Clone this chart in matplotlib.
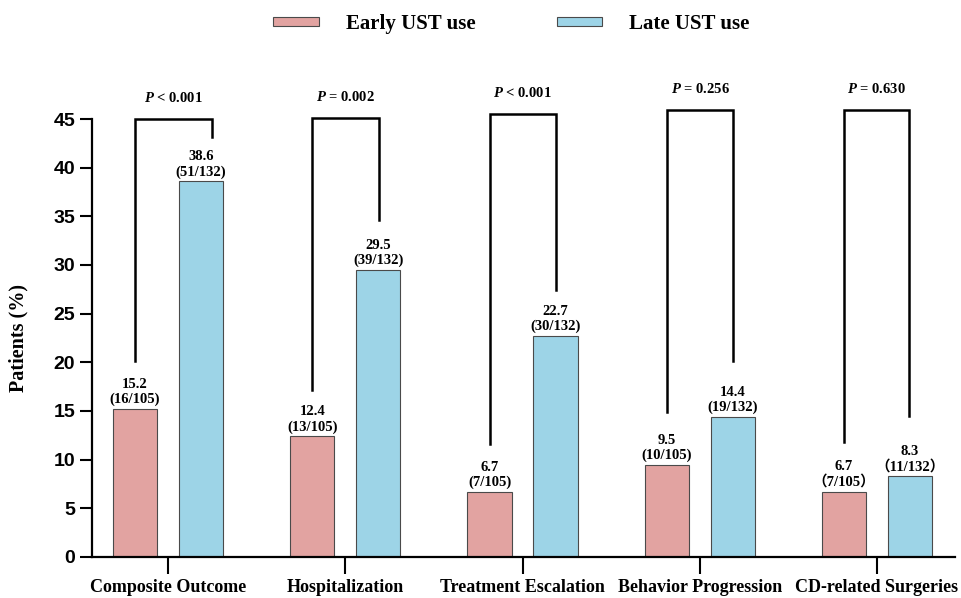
import matplotlib
matplotlib.use("Agg")
import matplotlib.pyplot as plt
from matplotlib.patches import Patch
import numpy as np

# ---- data ----
categories = ["Composite Outcome", "Hospitalization", "Treatment Escalation",
              "Behavior Progression", "CD-related Surgeries"]
early_pct = [15.2, 12.4, 6.7, 9.5, 6.7]
late_pct = [38.6, 29.5, 22.7, 14.4, 8.3]
early_counts = ["(16/105)", "(13/105)", "(7/105)", "(10/105)", "\uff087/105\uff09"]
late_counts = ["(51/132)", "(39/132)", "(30/132)", "(19/132)", "\uff0811/132\uff09"]
p_signs = ["<", "=", "<", "=", "="]
p_values = ["0.001", "0.002", "0.001", "0.256", "0.630"]
series_names = ["Early UST use", "Late UST use"]
y_ticks = [0, 5, 10, 15, 20, 25, 30, 35, 40, 45]

# ---- bracket layout (y in data units, right-leg x offset from group centre) ----
br_top = [45.0, 45.1, 45.5, 45.9, 45.9]
br_left_bottom = [20.1, 17.2, 11.6, 14.9, 11.8]
br_right_bottom = [43.2, 34.6, 27.4, 20.1, 14.5]
br_right_dx = [0.247, 0.19, 0.19, 0.19, 0.18]

# ---- style ----
serif = ["Liberation Serif", "Noto Sans CJK SC", "DejaVu Serif"]
plt.rcParams["mathtext.fontset"] = "custom"
plt.rcParams["mathtext.it"] = "Liberation Serif:italic:bold"
plt.rcParams["mathtext.rm"] = "Liberation Serif:bold"
plt.rcParams["mathtext.bf"] = "Liberation Serif:bold"

c_early = "#E2A3A1"
c_late = "#9DD4E7"
edge = "#4a4a4a"

fig = plt.figure(figsize=(9.61, 5.98), dpi=100)
ax = fig.add_axes([0.0957, 0.0686, 0.8981, 0.7324])

x = np.arange(len(categories))
w = 0.25
off = 0.186

b1 = ax.bar(x - off, early_pct, w, color=c_early, edgecolor=edge, linewidth=0.8, zorder=2)
b2 = ax.bar(x + off, late_pct, w, color=c_late, edgecolor=edge, linewidth=0.8, zorder=2)

# value labels (percentage and count)
for xi, v, c in zip(x - off, early_pct, early_counts):
    ax.annotate(f"{v}\n{c}", (xi, v), xytext=(0, 2), textcoords="offset points",
                ha="center", va="bottom", fontsize=10.5, fontweight="bold",
                family=serif, linespacing=1.15)
for xi, v, c in zip(x + off, late_pct, late_counts):
    ax.annotate(f"{v}\n{c}", (xi, v), xytext=(0, 2), textcoords="offset points",
                ha="center", va="bottom", fontsize=10.5, fontweight="bold",
                family=serif, linespacing=1.15)

# significance brackets
for i in range(len(categories)):
    xl = x[i] - off
    xr = x[i] + br_right_dx[i]
    ax.plot([xl, xl, xr, xr],
            [br_left_bottom[i], br_top[i], br_top[i], br_right_bottom[i]],
            color="black", linewidth=1.8, clip_on=False, zorder=3,
            solid_joinstyle="miter")
    ax.annotate(rf"$P$ {p_signs[i]} {p_values[i]}", ((xl + xr) / 2, br_top[i]),
                xytext=(0, 10), textcoords="offset points", ha="center",
                va="bottom", fontsize=10.5, fontweight="bold", family=serif,
                annotation_clip=False)

# axes
ax.set_xlim(-0.429, 4.44)
ax.set_ylim(0, 45)
ax.set_yticks(y_ticks)
ax.set_yticklabels([str(t) for t in y_ticks], fontsize=14, fontweight="bold",
                   family=["Liberation Sans", "DejaVu Sans"])
ax.set_xticks(x)
ax.set_xticklabels(categories, fontsize=13, fontweight="bold", family=serif)
ax.tick_params(axis="y", length=9, width=1.5, pad=3)
ax.tick_params(axis="x", length=12, width=1.5, pad=4)
for s in ["top", "right"]:
    ax.spines[s].set_visible(False)
for s in ["left", "bottom"]:
    ax.spines[s].set_linewidth(1.6)
ax.set_ylabel("Patients (%)", fontsize=14.5, fontweight="bold", family=serif, labelpad=18)

# legend
handles = [Patch(facecolor=c_early, edgecolor=edge, linewidth=0.8),
           Patch(facecolor=c_late, edgecolor=edge, linewidth=0.8)]
leg = fig.legend(handles, series_names, loc="center", bbox_to_anchor=(0.532, 0.96),
                 ncol=2, frameon=False, handlelength=2.2, handleheight=0.3,
                 handletextpad=1.3, columnspacing=3.9,
                 prop={"family": serif, "weight": "bold", "size": 15})

fig.savefig("out.png", dpi=100)
